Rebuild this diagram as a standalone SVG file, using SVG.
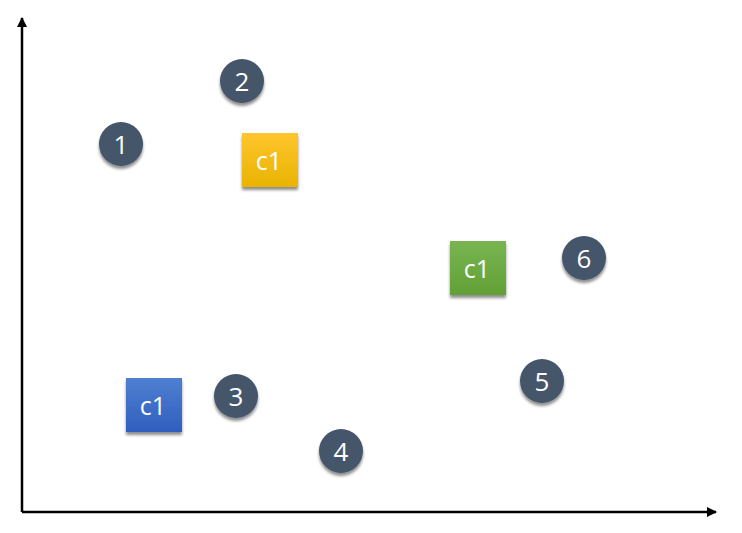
<svg xmlns="http://www.w3.org/2000/svg" width="742" height="533" viewBox="0 0 742 533">
<style>
.pt{fill:#44546A;filter:url(#sh)}
.sq{filter:url(#sh)}
.t{fill:#FFFFFF;font-family:"Open Sans","Noto Sans","DejaVu Sans",sans-serif;text-anchor:middle;dominant-baseline:central}
.n{font-size:26px}
.c{font-size:25px}
.ax{stroke:#000;stroke-width:2.5;fill:none}
</style>
<defs>
<filter id="sh" x="-30%" y="-30%" width="160%" height="170%">
<feGaussianBlur in="SourceAlpha" stdDeviation="1.8"/>
<feOffset dx="0" dy="2.5" result="b"/>
<feComponentTransfer><feFuncA type="linear" slope="0.45"/></feComponentTransfer>
<feMerge><feMergeNode/><feMergeNode in="SourceGraphic"/></feMerge>
</filter>
<linearGradient id="gy" x1="0" y1="0" x2="0" y2="1"><stop offset="0" stop-color="#FFC52E"/><stop offset="1" stop-color="#E9B300"/></linearGradient>
<linearGradient id="gg" x1="0" y1="0" x2="0" y2="1"><stop offset="0" stop-color="#78B552"/><stop offset="1" stop-color="#62A035"/></linearGradient>
<linearGradient id="gb" x1="0" y1="0" x2="0" y2="1"><stop offset="0" stop-color="#4F7FD0"/><stop offset="1" stop-color="#2F5FC0"/></linearGradient>
<marker id="ar" viewBox="0 0 10 10" refX="9" refY="5" markerWidth="4" markerHeight="4" orient="auto" markerUnits="strokeWidth"><path d="M0,0 L10,5 L0,10 z" fill="#000"/></marker>
</defs>
<g id="connectors">
<path class="ax" d="M22,512 L22,18" marker-end="url(#ar)"/>
<path class="ax" d="M22,512 L716,512" marker-end="url(#ar)"/>
</g>
<g id="p1"><circle class="pt" cx="121" cy="144" r="22"/><text class="t n" x="121" y="144">1</text></g>
<g id="p2"><circle class="pt" cx="242" cy="81" r="22"/><text class="t n" x="242" y="81">2</text></g>
<g id="p3"><circle class="pt" cx="236" cy="396" r="22"/><text class="t n" x="236" y="396">3</text></g>
<g id="p4"><circle class="pt" cx="341" cy="451" r="22"/><text class="t n" x="341" y="451">4</text></g>
<g id="p5"><circle class="pt" cx="542" cy="381" r="22"/><text class="t n" x="542" y="381">5</text></g>
<g id="p6"><circle class="pt" cx="584" cy="258" r="22"/><text class="t n" x="584" y="258">6</text></g>
<g id="c_yellow"><rect class="sq" x="242" y="133" width="56" height="54" fill="url(#gy)"/><text class="t c" x="269" y="160">c1</text></g>
<g id="c_green"><rect class="sq" x="450" y="241" width="56" height="54" fill="url(#gg)"/><text class="t c" x="477" y="268">c1</text></g>
<g id="c_blue"><rect class="sq" x="126" y="378" width="56" height="54" fill="url(#gb)"/><text class="t c" x="153" y="405">c1</text></g>
</svg>
